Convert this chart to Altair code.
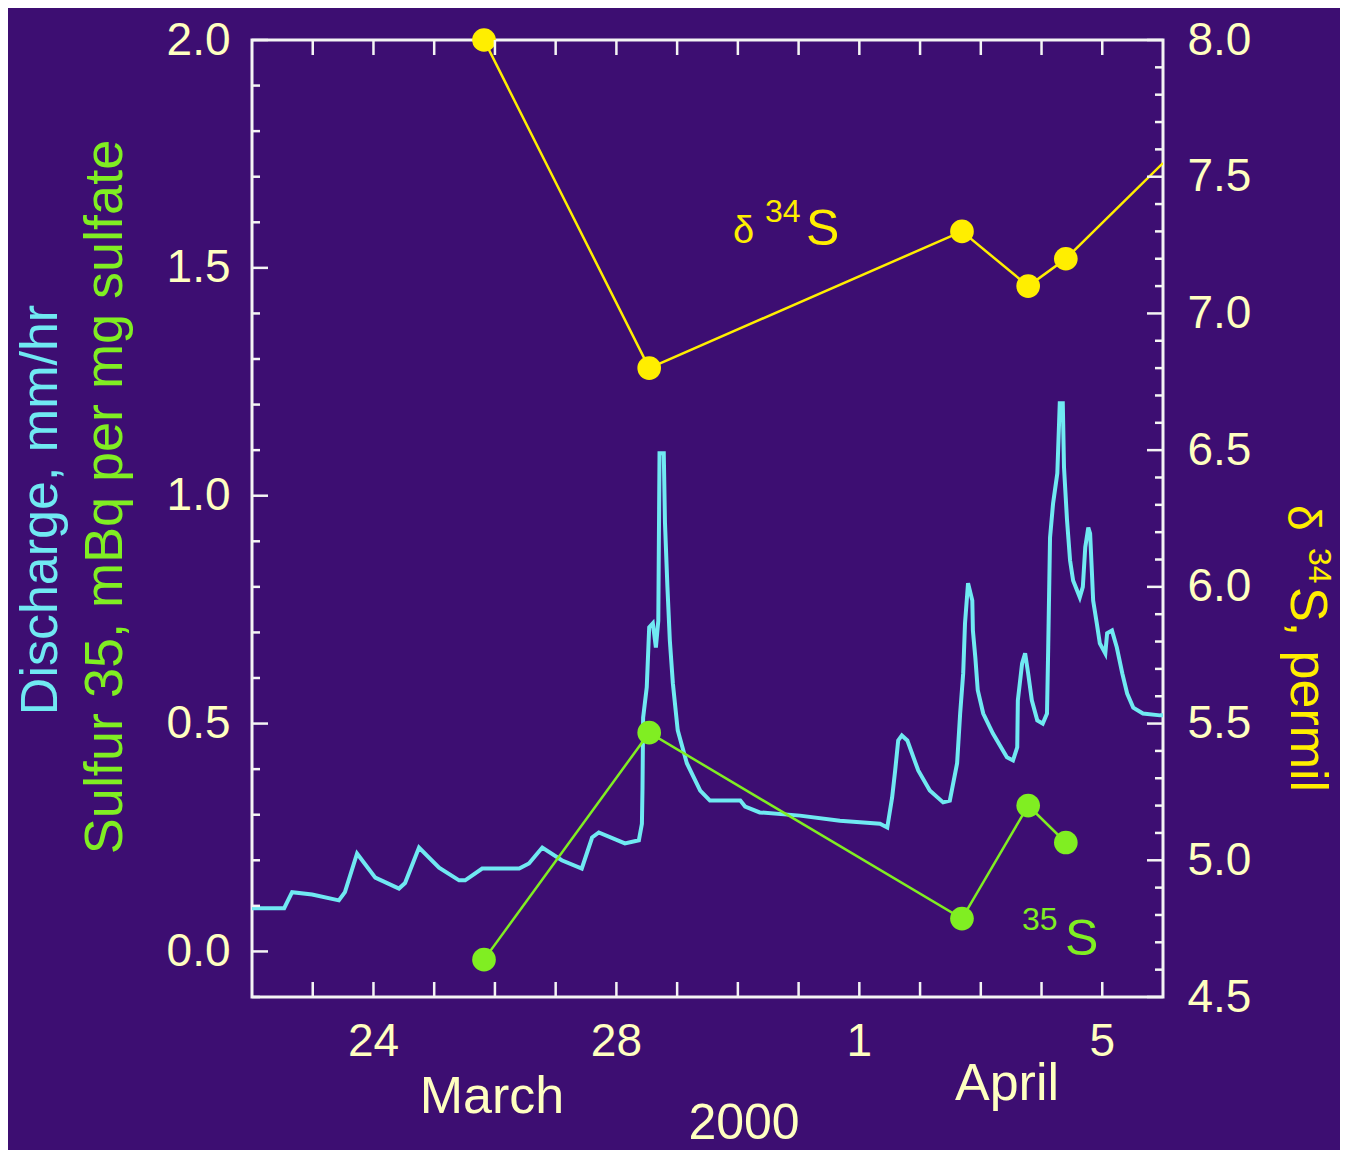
import altair as alt
import pandas as pd

START = pd.Timestamp("2000-03-22")

# Discharge (mm/hr): days after 22 March 2000 and values
DISCHARGE_DAY = [0.00, 0.53, 0.66, 0.99, 1.43, 1.53, 1.73, 2.03, 2.42, 2.52,
                 2.75, 3.08, 3.41, 3.51, 3.79, 4.40, 4.56, 4.78, 5.10, 5.43,
                 5.60, 5.71, 6.14, 6.37, 6.42, 6.43, 6.44, 6.50, 6.54, 6.60,
                 6.65, 6.69, 6.71, 6.78, 6.80, 6.84, 6.88, 6.93, 7.01, 7.16,
                 7.38, 7.54, 8.04, 8.12, 8.36, 9.02, 9.68, 10.34, 10.46, 10.54,
                 10.59, 10.64, 10.70, 10.79, 10.97, 11.16, 11.38, 11.49, 11.61, 11.66,
                 11.71, 11.74, 11.79, 11.86, 11.87, 11.91, 11.95, 12.04, 12.20, 12.43,
                 12.53, 12.60, 12.61, 12.68, 12.73, 12.78, 12.84, 12.93, 13.02, 13.09,
                 13.11, 13.14, 13.19, 13.26, 13.30, 13.35, 13.37, 13.42, 13.47, 13.52,
                 13.63, 13.68, 13.72, 13.77, 13.80, 13.83, 13.85, 13.91, 13.96, 14.05,
                 14.08, 14.16, 14.24, 14.33, 14.41, 14.51, 14.67, 14.95, 15.00]
DISCHARGE = [0.095, 0.095, 0.130, 0.125, 0.112, 0.130, 0.215, 0.162, 0.138, 0.150,
             0.228, 0.184, 0.156, 0.156, 0.182, 0.182, 0.193, 0.228, 0.200, 0.182,
             0.250, 0.261, 0.237, 0.244, 0.280, 0.360, 0.513, 0.580, 0.711, 0.720,
             0.667, 0.726, 1.093, 1.093, 0.940, 0.800, 0.682, 0.588, 0.485, 0.413,
             0.353, 0.331, 0.331, 0.318, 0.305, 0.298, 0.287, 0.280, 0.272, 0.338,
             0.397, 0.463, 0.474, 0.463, 0.397, 0.353, 0.327, 0.331, 0.413, 0.522,
             0.610, 0.720, 0.808, 0.770, 0.704, 0.645, 0.573, 0.522, 0.478, 0.426,
             0.419, 0.448, 0.551, 0.632, 0.654, 0.610, 0.551, 0.507, 0.500, 0.522,
             0.667, 0.908, 0.983, 1.049, 1.203, 1.203, 1.062, 0.946, 0.858, 0.814,
             0.777, 0.800, 0.887, 0.930, 0.917, 0.830, 0.770, 0.720, 0.676, 0.654,
             0.698, 0.704, 0.667, 0.610, 0.566, 0.535, 0.522, 0.518, 0.518]

# Sulfur 35 (mBq per mg sulfate)
S35_DAY = [3.82, 6.54, 11.69, 12.78, 13.40]
S35 = [-0.018, 0.480, 0.072, 0.320, 0.239]

# delta 34S (permil); last line value continues off the right edge
D34S_DAY = [3.82, 6.54, 11.69, 12.78, 13.40]
D34S = [8.00, 6.80, 7.30, 7.10, 7.20]
D34S_LINE_DAY = D34S_DAY + [15.00]
D34S_LINE = D34S + [7.55]

# Tick values
DAY_TICKS = list(range(1, 15))
X_LABEL_DAYS = [2, 6, 10, 14]          # 24 Mar, 28 Mar, 1 Apr, 5 Apr
LEFT_MAJOR = [0.0, 0.5, 1.0, 1.5, 2.0]
LEFT_MINOR = [-0.1, 0.1, 0.2, 0.3, 0.4, 0.6, 0.7, 0.8, 0.9, 1.1, 1.2, 1.3, 1.4,
              1.6, 1.7, 1.8, 1.9]
RIGHT_MAJOR = [4.5, 5.0, 5.5, 6.0, 6.5, 7.0, 7.5, 8.0]
RIGHT_MINOR = [4.6, 4.7, 4.8, 4.9, 5.1, 5.2, 5.3, 5.4, 5.6, 5.7, 5.8, 5.9, 6.1,
               6.2, 6.3, 6.4, 6.6, 6.7, 6.8, 6.9, 7.1, 7.2, 7.3, 7.4, 7.6, 7.7,
               7.8, 7.9]


def to_time(days):
    return START + pd.to_timedelta(days, unit="D")


W, H = 911, 957
BG = "#3d0e72"
CYAN = "#70e9f2"
GREEN = "#80ee22"
YELLOW = "#ffee00"
CREAM = "#ffffc0"
FRAME = "#f4f4f4"
FONT = "Liberation Sans"
TICK_FS = 46

xscale = alt.Scale(domain=[alt.DateTime(year=2000, month=3, date=22),
                           alt.DateTime(year=2000, month=4, date=6)])
lscale = alt.Scale(domain=[-0.1, 2.0], nice=False, zero=False)
rscale = alt.Scale(domain=[4.5, 8.0], nice=False, zero=False)

df_q = pd.DataFrame({"t": to_time(DISCHARGE_DAY), "v": DISCHARGE})
df_s = pd.DataFrame({"t": to_time(S35_DAY), "v": S35})
df_d = pd.DataFrame({"t": to_time(D34S_DAY), "v": D34S})
df_dl = pd.DataFrame({"t": to_time(D34S_LINE_DAY), "v": D34S_LINE})

discharge = alt.Chart(df_q).mark_line(color=CYAN, strokeWidth=4, clip=True).encode(
    x=alt.X("t:T", scale=xscale, axis=None),
    y=alt.Y("v:Q", scale=lscale,
            axis=alt.Axis(orient="left", values=LEFT_MAJOR, format=".1f",
                          labelPadding=22, title=None, labelFontSize=TICK_FS)),
)

s35_line = alt.Chart(df_s).mark_line(color=GREEN, strokeWidth=2.5).encode(
    x=alt.X("t:T", scale=xscale, axis=None),
    y=alt.Y("v:Q", scale=lscale, axis=None),
)
s35_pts = alt.Chart(df_s).mark_point(filled=True, color=GREEN, size=560, opacity=1).encode(
    x=alt.X("t:T", scale=xscale, axis=None),
    y=alt.Y("v:Q", scale=lscale, axis=None),
)

d34_line = alt.Chart(df_dl).mark_line(color=YELLOW, strokeWidth=2.5, clip=True).encode(
    x=alt.X("t:T", scale=xscale, axis=None),
    y=alt.Y("v:Q", scale=rscale,
            axis=alt.Axis(orient="right", values=RIGHT_MAJOR, format=".1f",
                          labelPadding=24, title=None, labelFontSize=TICK_FS)),
)
d34_pts = alt.Chart(df_d).mark_point(filled=True, color=YELLOW, size=560, opacity=1).encode(
    x=alt.X("t:T", scale=xscale, axis=None),
    y=alt.Y("v:Q", scale=rscale, axis=None),
)

# inward tick marks
df_xt = pd.DataFrame({"t": to_time(DAY_TICKS)})
xt_bottom = alt.Chart(df_xt).mark_rule(color=FRAME, strokeWidth=2.5).encode(
    x=alt.X("t:T", scale=xscale, axis=None), y=alt.value(H), y2=alt.value(H - 15))
xt_top = alt.Chart(df_xt).mark_rule(color=FRAME, strokeWidth=2.5).encode(
    x=alt.X("t:T", scale=xscale, axis=None), y=alt.value(0), y2=alt.value(15))

# day-of-month labels under the x axis, placed by the time scale
df_xl = pd.DataFrame({"t": to_time(X_LABEL_DAYS)})
x_labels = alt.Chart(df_xl).mark_text(
    color=CREAM, font=FONT, fontSize=TICK_FS, baseline="alphabetic", align="center"
).encode(
    x=alt.X("t:T", scale=xscale, axis=None),
    y=alt.value(H + 59),
    text=alt.Text("t:T", format="%-d"),
)


def yticks(vals, scale, x1, x2):
    return alt.Chart(pd.DataFrame({"v": vals})).mark_rule(color=FRAME, strokeWidth=2.5).encode(
        y=alt.Y("v:Q", scale=scale, axis=None), x=alt.value(x1), x2=alt.value(x2))


lt_major = yticks(LEFT_MAJOR, lscale, 0, 16)
lt_minor = yticks(LEFT_MINOR, lscale, 0, 8)
rt_major = yticks(RIGHT_MAJOR, rscale, W, W - 16)
rt_minor = yticks(RIGHT_MINOR, rscale, W, W - 8)


def label(text, x, y, color, size, angle=0, align="left", baseline="alphabetic"):
    kw = dict(text=text, color=color, fontSize=size, font=FONT, align=align,
              baseline=baseline)
    if angle:
        kw["angle"] = angle
    return alt.Chart(pd.DataFrame({"a": [0]})).mark_text(**kw).encode(
        x=alt.value(x), y=alt.value(y))


texts = [
    label("Discharge, mm/hr", -195, 470, CYAN, 52, angle=270, align="center"),
    label("Sulfur 35, mBq per mg sulfate", -130, 457, GREEN, 54, angle=270, align="center"),
    label("δ", 1036, 465, YELLOW, 46, angle=90),
    label("34", 1057, 508, YELLOW, 32, angle=90),
    label("S, permil", 1039, 547, YELLOW, 52, angle=90),
    label("δ", 481, 203, YELLOW, 38),
    label("34", 513, 182, YELLOW, 32),
    label("S", 554, 205, YELLOW, 50),
    label("35", 770, 890, GREEN, 32),
    label("S", 813, 915, GREEN, 50),
    label("March", 240, 1073, CREAM, 52, align="center"),
    label("April", 755, 1060, CREAM, 52, align="center"),
    label("2000", 492, 1099, CREAM, 50, align="center"),
]

chart = alt.layer(
    discharge, s35_line, s35_pts, d34_line, d34_pts,
    xt_bottom, xt_top, lt_major, lt_minor, rt_major, rt_minor, x_labels,
    *texts,
).resolve_scale(y="independent").properties(
    width=W, height=H,
    padding={"left": 244, "top": 32, "right": 177, "bottom": 153},
    autosize=alt.AutoSizeParams(type="none"),
).configure(
    background=BG,
).configure_view(
    stroke=FRAME, strokeWidth=3,
).configure_axis(
    grid=False, ticks=False, domain=False,
    labelColor=CREAM, labelFont=FONT, labelFontSize=TICK_FS,
)

chart.save("out.html", embed_options={"renderer": "svg", "actions": False})
